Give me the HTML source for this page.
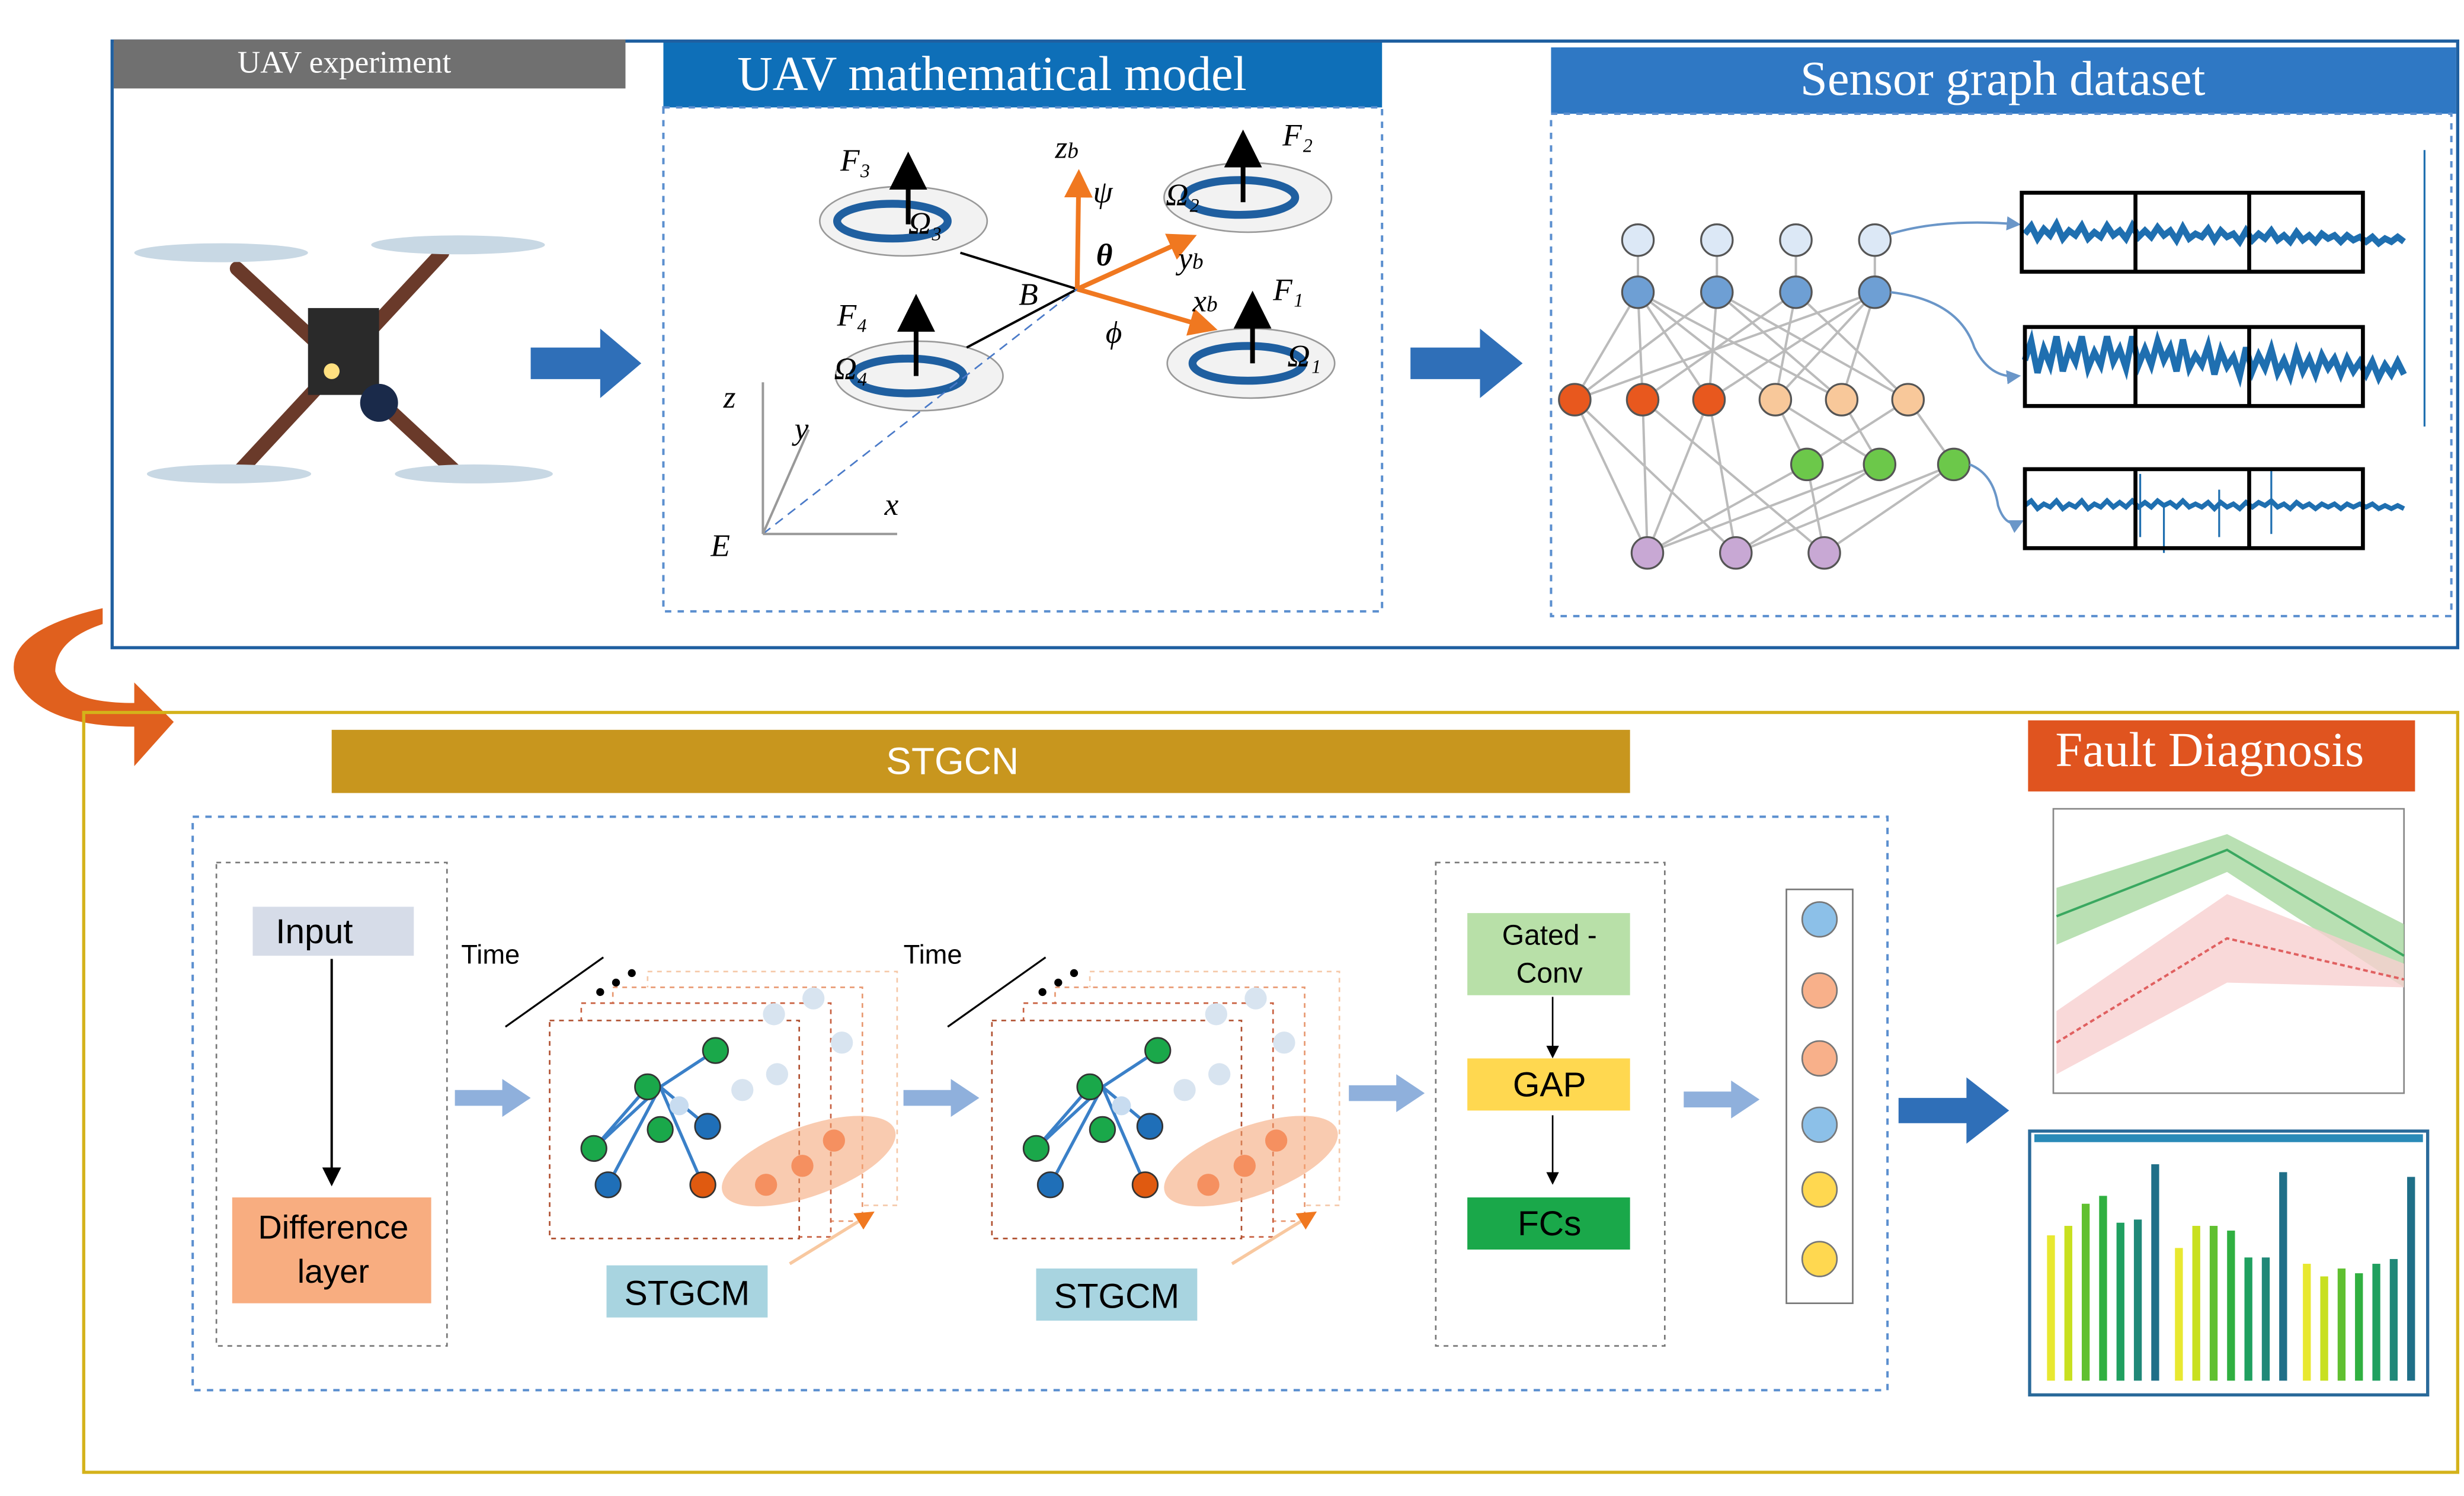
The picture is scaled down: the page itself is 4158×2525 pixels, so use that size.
<!DOCTYPE html>
<html><head><meta charset="utf-8"><style>html,body{margin:0;padding:0;background:#fff}svg{display:block}</style></head><body>
<svg width="4158" height="2525" viewBox="0 0 1560 947" preserveAspectRatio="none" xmlns="http://www.w3.org/2000/svg" font-family="Liberation Serif, serif">
<defs>
<marker id="ah" markerWidth="8" markerHeight="8" refX="6" refY="4" orient="auto"><path d="M0,0 L8,4 L0,8 z" fill="#000"/></marker>
<marker id="oh" markerWidth="6" markerHeight="6" refX="5" refY="3" orient="auto"><path d="M0,0 L6,3 L0,6 z" fill="#f07820"/></marker>
<marker id="bh" markerWidth="6" markerHeight="6" refX="5" refY="3" orient="auto"><path d="M0,0 L6,3 L0,6 z" fill="#6a96c8"/></marker>
</defs>
<!-- top box -->
<rect x="71" y="26" width="1485" height="384" fill="none" stroke="#1f5fa0" stroke-width="2"/>
<rect x="72" y="25" width="324" height="31" fill="#707070"/>
<text x="218" y="46" font-size="20" fill="#fff" text-anchor="middle">UAV experiment</text>
<!-- drone -->
<g stroke-linecap="round">
<line x1="150" y1="170" x2="290" y2="300" stroke="#6a3a2a" stroke-width="9"/>
<line x1="280" y1="160" x2="150" y2="300" stroke="#6a3a2a" stroke-width="9"/>
<ellipse cx="140" cy="160" rx="55" ry="6" fill="#c8d8e4"/>
<ellipse cx="290" cy="155" rx="55" ry="6" fill="#c8d8e4"/>
<ellipse cx="145" cy="300" rx="52" ry="6" fill="#c8d8e4"/>
<ellipse cx="300" cy="300" rx="50" ry="6" fill="#c8d8e4"/>
<rect x="195" y="195" width="45" height="55" fill="#2a2a2a"/>
<circle cx="240" cy="255" r="12" fill="#1a2a4a"/>
<circle cx="210" cy="235" r="5" fill="#ffe080"/>
</g>
<path d="M336,220 H380 V208 L406,230 L380,252 V240 H336 z" fill="#2f6fb8"/>
<!-- math model -->
<rect x="420" y="27" width="455" height="41" fill="#0e6fb8"/>
<text x="628" y="57" font-size="31" fill="#fff" text-anchor="middle">UAV mathematical model</text>
<rect x="420" y="68" width="455" height="319" fill="none" stroke="#5b8fcf" stroke-width="1.5" stroke-dasharray="4,4"/>
<g font-style="italic" font-size="20" fill="#000">
<ellipse cx="572" cy="140" rx="53" ry="22" fill="#f2f2f2" stroke="#999"/>
<ellipse cx="790" cy="125" rx="53" ry="22" fill="#f2f2f2" stroke="#999"/>
<ellipse cx="582" cy="238" rx="53" ry="22" fill="#f2f2f2" stroke="#999"/>
<ellipse cx="792" cy="230" rx="53" ry="22" fill="#f2f2f2" stroke="#999"/>
<g fill="none" stroke="#1f5fa0" stroke-width="5">
<ellipse cx="565" cy="140" rx="35" ry="11"/><ellipse cx="785" cy="125" rx="35" ry="11"/>
<ellipse cx="575" cy="238" rx="35" ry="11"/><ellipse cx="790" cy="230" rx="35" ry="11"/></g>
<g stroke="#000" stroke-width="3"><line x1="575" y1="142" x2="575" y2="102" marker-end="url(#ah)"/><line x1="787" y1="128" x2="787" y2="88" marker-end="url(#ah)"/><line x1="580" y1="238" x2="580" y2="192" marker-end="url(#ah)"/><line x1="793" y1="230" x2="793" y2="190" marker-end="url(#ah)"/></g>
<g stroke="#000" stroke-width="1.5"><line x1="608" y1="160" x2="682" y2="183"/><line x1="612" y1="220" x2="682" y2="183"/></g>
<g stroke="#f07820" stroke-width="3"><line x1="682" y1="183" x2="683" y2="110" marker-end="url(#oh)"/><line x1="682" y1="183" x2="755" y2="150" marker-end="url(#oh)"/><line x1="682" y1="183" x2="768" y2="208" marker-end="url(#oh)"/></g>
<line x1="483" y1="338" x2="682" y2="183" stroke="#4a7ac8" stroke-dasharray="6,4"/>
<g stroke="#999" stroke-width="1.5"><line x1="483" y1="338" x2="483" y2="242"/><line x1="483" y1="338" x2="568" y2="338"/><line x1="483" y1="338" x2="512" y2="272"/></g>
<text x="532" y="108">F₃</text><text x="812" y="92">F₂</text><text x="530" y="206">F₄</text><text x="806" y="190">F₁</text>
<text x="575" y="148">Ω₃</text><text x="738" y="130">Ω₂</text><text x="528" y="240">Ω₄</text><text x="815" y="232">Ω₁</text>
<text x="668" y="100">z<tspan font-size="14">b</tspan></text><text x="692" y="128">ψ</text><text x="694" y="168" font-weight="bold">θ</text>
<text x="746" y="170">y<tspan font-size="14">b</tspan></text><text x="755" y="197">x<tspan font-size="14">b</tspan></text><text x="700" y="217">ϕ</text>
<text x="645" y="193">B</text><text x="458" y="258">z</text><text x="503" y="278">y</text><text x="560" y="326">x</text><text x="450" y="352">E</text>
</g>
<path d="M893,220 H937 V208 L964,230 L937,252 V240 H893 z" fill="#2f6fb8"/>
<!-- sensor graph -->
<rect x="982" y="30" width="573" height="42" fill="#2f78c4"/>
<text x="1268" y="60" font-size="31" fill="#fff" text-anchor="middle">Sensor graph dataset</text>
<rect x="982" y="72" width="570" height="318" fill="none" stroke="#5b8fcf" stroke-width="1.5" stroke-dasharray="4,4"/>
<g stroke="#bbb" stroke-width="1.5">
<path d="M1037,185 L997,253 M1037,185 L1040,253 M1037,185 L1082,253 M1037,185 L1124,253 M1037,185 L1166,253 M1087,185 L997,253 M1087,185 L1082,253 M1087,185 L1166,253 M1087,185 L1208,253 M1137,185 L1040,253 M1137,185 L1124,253 M1137,185 L1208,253 M1187,185 L997,253 M1187,185 L1082,253 M1187,185 L1166,253 M1187,185 L1124,253"/>
<path d="M997,253 L1043,350 M997,253 L1099,350 M1040,253 L1043,350 M1040,253 L1155,350 M1082,253 L1099,350 M1082,253 L1043,350 M1124,253 L1144,294 M1166,253 L1190,294 M1208,253 L1237,294 M1124,253 L1190,294 M1208,253 L1144,294 M1144,294 L1043,350 M1144,294 L1155,350 M1190,294 L1099,350 M1190,294 L1043,350 M1237,294 L1155,350 M1237,294 L1099,350 M1037,152 L1037,185 M1087,152 L1087,185 M1137,152 L1137,185 M1187,152 L1187,185"/>
</g>
<g stroke="#555" stroke-width="1.2">
<g fill="#dce8f6"><circle cx="1037" cy="152" r="10"/><circle cx="1087" cy="152" r="10"/><circle cx="1137" cy="152" r="10"/><circle cx="1187" cy="152" r="10"/></g>
<g fill="#6e9fd4"><circle cx="1037" cy="185" r="10"/><circle cx="1087" cy="185" r="10"/><circle cx="1137" cy="185" r="10"/><circle cx="1187" cy="185" r="10"/></g>
<g fill="#e8581e"><circle cx="997" cy="253" r="10"/><circle cx="1040" cy="253" r="10"/><circle cx="1082" cy="253" r="10"/></g>
<g fill="#f8c89a"><circle cx="1124" cy="253" r="10"/><circle cx="1166" cy="253" r="10"/><circle cx="1208" cy="253" r="10"/></g>
<g fill="#6cc84a"><circle cx="1144" cy="294" r="10"/><circle cx="1190" cy="294" r="10"/><circle cx="1237" cy="294" r="10"/></g>
<g fill="#c8a8d4"><circle cx="1043" cy="350" r="10"/><circle cx="1099" cy="350" r="10"/><circle cx="1155" cy="350" r="10"/></g>
</g>
<g fill="none" stroke="#6a96c8" stroke-width="1.5"><path d="M1197,148 Q1230,138 1278,142" marker-end="url(#bh)"/><path d="M1197,185 Q1240,190 1250,220 Q1260,240 1278,238" marker-end="url(#bh)"/><path d="M1247,294 Q1262,300 1265,320 Q1270,335 1280,330" marker-end="url(#bh)"/></g>
<g fill="none" stroke="#1f6fb0" stroke-width="1.2">
<path d="M1282,148 l4,-5 l4,8 l4,-6 l4,4 l4,-7 l4,9 l4,-5 l4,3 l4,-6 l4,8 l4,-4 l4,3 l4,-7 l4,6 l4,-3 l4,5 l4,-8 l4,7 l4,-4 l4,4 l4,-6 l4,5 l4,-3 l4,6 l4,-8 l4,7 l4,-3 l4,2 l4,-5 l4,7 l4,-6 l4,4 l4,-2 l4,5 l4,-7 l4,6 l4,-4 l4,3 l4,-5 l4,6 l4,-3 l4,4 l4,-6 l4,5 l4,-3 l4,4 l4,-5 l4,3 l4,-2 l4,4 l4,-4 l4,3 l4,-2 l4,3 l4,-3 l4,4 l4,-3 l4,2 l4,-3 l4,3" stroke-width="4"/>
<path d="M1282,228 l4,-12 l4,20 l4,-15 l4,10 l4,-18 l4,22 l4,-14 l4,8 l4,-16 l4,20 l4,-10 l4,8 l4,-18 l4,16 l4,-8 l4,12 l4,-20 l4,18 l4,-10 l4,10 l4,-15 l4,12 l4,-8 l4,15 l4,-20 l4,18 l4,-8 l4,6 l4,-12 l4,18 l4,-15 l4,10 l4,-6 l4,12 l4,-18 l4,15 l4,-10 l4,8 l4,-12 l4,15 l4,-8 l4,10 l4,-15 l4,12 l4,-8 l4,10 l4,-12 l4,8 l4,-6 l4,10 l4,-10 l4,8 l4,-6 l4,8 l4,-8 l4,10 l4,-8 l4,6 l4,-8 l4,8" stroke-width="4"/>
<path d="M1282,320 l4,-3 l4,5 l4,-3 l4,2 l4,-4 l4,5 l4,-3 l4,2 l4,-4 l4,5 l4,-3 l4,2 l4,-4 l4,4 l4,-3 l4,3 l4,-4 l4,4 l4,-3 l4,3 l4,-4 l4,3 l4,-2 l4,3 l4,-4 l4,4 l4,-2 l4,2 l4,-3 l4,4 l4,-4 l4,3 l4,-2 l4,3 l4,-4 l4,3 l4,-3 l4,2 l4,-3 l4,4 l4,-2 l4,3 l4,-4 l4,3 l4,-2 l4,3 l4,-3 l4,2 l4,-2 l4,3 l4,-3 l4,2 l4,-2 l4,2 l4,-2 l4,3 l4,-2 l4,2 l4,-2 l4,2" stroke-width="3"/>
<path d="M1355,300 v40 M1405,310 v30 M1438,298 v40 M1370,320 v30 M1535,95 v175"/>
</g>
<g fill="none" stroke="#000" stroke-width="2.5">
<rect x="1280" y="122" width="216" height="50"/><line x1="1352" y1="122" x2="1352" y2="172"/><line x1="1424" y1="122" x2="1424" y2="172"/>
<rect x="1282" y="207" width="214" height="50"/><line x1="1352" y1="207" x2="1352" y2="257"/><line x1="1424" y1="207" x2="1424" y2="257"/>
<rect x="1282" y="297" width="214" height="50"/><line x1="1352" y1="297" x2="1352" y2="347"/><line x1="1424" y1="297" x2="1424" y2="347"/>
</g>
<!-- curved orange arrow -->
<path d="M65,385 Q0,400 10,430 Q25,460 85,460 L85,485 L110,457 L85,432 L85,445 Q40,445 35,425 Q35,405 65,395 z" fill="#e0601e"/>
<!-- bottom box -->
<rect x="53" y="451" width="1503" height="481" fill="none" stroke="#d4b21a" stroke-width="2"/>
<rect x="210" y="462" width="822" height="40" fill="#c8961e"/>
<text x="603" y="490" font-size="24" fill="#fff" text-anchor="middle" font-family="Liberation Sans, sans-serif">STGCN</text>
<rect x="122" y="517" width="1073" height="363" fill="none" stroke="#5b8fcf" stroke-width="1.5" stroke-dasharray="4,4"/>
<rect x="137" y="546" width="146" height="306" fill="none" stroke="#777" stroke-dasharray="3,3"/>
<rect x="160" y="574" width="102" height="31" fill="#d6dce8"/>
<text x="199" y="597" font-size="22" text-anchor="middle" font-family="Liberation Sans, sans-serif">Input</text>
<line x1="210" y1="607" x2="210" y2="748" stroke="#000" stroke-width="1.5" marker-end="url(#ah)"/>
<rect x="147" y="758" width="126" height="67" fill="#f8ad80"/>
<text x="211" y="784" font-size="21" text-anchor="middle" font-family="Liberation Sans, sans-serif">Difference</text>
<text x="211" y="812" font-size="21" text-anchor="middle" font-family="Liberation Sans, sans-serif">layer</text>
<g font-family="Liberation Sans, sans-serif">
<g id="st">
<rect x="410" y="615" width="158" height="148" fill="#fff" stroke="#f5c8a8" stroke-dasharray="3,3"/>
<rect x="388" y="625" width="158" height="148" fill="#fff" stroke="#e89870" stroke-dasharray="3,3"/>
<rect x="368" y="635" width="158" height="148" fill="#fff" stroke="#c86040" stroke-dasharray="3,3"/>
<rect x="348" y="646" width="158" height="138" fill="#fff" stroke="#b05030" stroke-dasharray="3,3"/>
<g fill="#d8e4f0"><circle cx="515" cy="632" r="7"/><circle cx="490" cy="642" r="7"/><circle cx="470" cy="690" r="7"/><circle cx="492" cy="680" r="7"/><circle cx="533" cy="660" r="7"/></g>
<ellipse cx="512" cy="735" rx="58" ry="22" fill="#f4a070" opacity="0.55" transform="rotate(-20 512 735)"/>
<g stroke="#3a80c8" stroke-width="2"><path d="M418,688 L410,688 M418,688 L453,665 M418,688 L448,713 M418,688 L376,727 M418,688 L385,750 M418,688 L445,750 M410,688 L376,727"/></g>
<circle cx="453" cy="665" r="8" fill="#1aa84a" stroke="#333"/><circle cx="410" cy="688" r="8" fill="#1aa84a" stroke="#333"/><circle cx="418" cy="715" r="8" fill="#1aa84a" stroke="#333"/><circle cx="376" cy="727" r="8" fill="#1aa84a" stroke="#333"/>
<circle cx="448" cy="713" r="8" fill="#1f6fb8" stroke="#333"/><circle cx="385" cy="750" r="8" fill="#1f6fb8" stroke="#333"/><circle cx="445" cy="750" r="8" fill="#e05a10" stroke="#333"/>
<circle cx="485" cy="750" r="7" fill="#f59060"/><circle cx="508" cy="738" r="7" fill="#f59060"/><circle cx="528" cy="722" r="7" fill="#f59060"/><circle cx="430" cy="700" r="6" fill="#c8dcf0"/>
<line x1="320" y1="650" x2="382" y2="606" stroke="#000" stroke-width="1.2"/>
<circle cx="380" cy="628" r="2.5"/><circle cx="390" cy="622" r="2.5"/><circle cx="400" cy="616" r="2.5"/>
<text x="292" y="610" font-size="17">Time</text>
<path d="M500,800 L552,768" stroke="#f8c8a0" stroke-width="2" marker-end="url(#oh)"/>
</g>
<use href="#st" transform="translate(280,0)"/>
<rect x="384" y="801" width="102" height="33" fill="#a8d4e0"/>
<text x="435" y="826" font-size="22" text-anchor="middle">STGCM</text>
<rect x="656" y="803" width="102" height="33" fill="#a8d4e0"/>
<text x="707" y="828" font-size="22" text-anchor="middle">STGCM</text>
<g fill="#8fb0dc">
<path d="M288,690 H318 V683 L336,695 L318,707 V700 H288 z"/>
<path d="M572,690 H602 V683 L620,695 L602,707 V700 H572 z"/>
<path d="M854,687 H884 V680 L902,692 L884,704 V697 H854 z"/>
<path d="M1066,691 H1096 V684 L1114,696 L1096,708 V701 H1066 z"/>
</g>
<rect x="909" y="546" width="145" height="306" fill="none" stroke="#777" stroke-dasharray="3,3"/>
<rect x="929" y="578" width="103" height="52" fill="#b8e0a8"/>
<text x="981" y="598" font-size="18" text-anchor="middle">Gated -</text>
<text x="981" y="622" font-size="18" text-anchor="middle">Conv</text>
<line x1="983" y1="631" x2="983" y2="668" stroke="#000" marker-end="url(#ah)"/>
<rect x="929" y="670" width="103" height="33" fill="#ffd850"/>
<text x="981" y="694" font-size="22" text-anchor="middle">GAP</text>
<line x1="983" y1="706" x2="983" y2="748" stroke="#000" marker-end="url(#ah)"/>
<rect x="929" y="758" width="103" height="33" fill="#1aa84a"/>
<text x="981" y="782" font-size="22" text-anchor="middle">FCs</text>
<rect x="1131" y="563" width="42" height="262" fill="#fff" stroke="#777"/>
<g stroke="#777"><circle cx="1152" cy="582" r="11" fill="#8cc0e8"/><circle cx="1152" cy="627" r="11" fill="#f8b08a"/><circle cx="1152" cy="670" r="11" fill="#f8b08a"/><circle cx="1152" cy="712" r="11" fill="#8cc0e8"/><circle cx="1152" cy="753" r="11" fill="#ffd850"/><circle cx="1152" cy="797" r="11" fill="#ffd850"/></g>
</g>
<path d="M1202,695 H1245 V682 L1272,703 L1245,724 V711 H1202 z" fill="#2f6fb8"/>
<!-- fault diagnosis -->
<rect x="1284" y="456" width="245" height="45" fill="#e0541f"/>
<text x="1399" y="485" font-size="31" fill="#fff" text-anchor="middle">Fault Diagnosis</text>
<rect x="1300" y="512" width="222" height="180" fill="#fff" stroke="#888"/>
<path d="M1302,562 L1410,528 L1522,585 L1522,625 L1410,552 L1302,598 z" fill="#a8d8a0" opacity="0.8"/>
<path d="M1302,640 L1410,566 L1522,610 L1522,625 L1410,622 L1302,680 z" fill="#f8d0d0" opacity="0.8"/>
<polyline points="1302,580 1410,538 1522,605" fill="none" stroke="#3aa860" stroke-width="1.5"/>
<polyline points="1302,660 1410,594 1522,620" fill="none" stroke="#e06060" stroke-width="1.5" stroke-dasharray="3,2"/>
<rect x="1285" y="716" width="252" height="167" fill="#fff" stroke="#2a6a9a" stroke-width="2"/>
<rect x="1288" y="718" width="246" height="5" fill="#2a8ab8"/>
<g>
<rect x="1296" y="782" width="5" height="92" fill="#e8e830"/><rect x="1307" y="776" width="5" height="98" fill="#c8e020"/><rect x="1318" y="762" width="5" height="112" fill="#60c030"/><rect x="1329" y="757" width="5" height="117" fill="#30b040"/><rect x="1340" y="774" width="5" height="100" fill="#20a060"/><rect x="1351" y="772" width="5" height="102" fill="#208878"/><rect x="1362" y="737" width="5" height="137" fill="#1f6f88"/>
<rect x="1377" y="790" width="5" height="84" fill="#e8e830"/><rect x="1388" y="776" width="5" height="98" fill="#c8e020"/><rect x="1399" y="776" width="5" height="98" fill="#60c030"/><rect x="1410" y="779" width="5" height="95" fill="#30b040"/><rect x="1421" y="796" width="5" height="78" fill="#20a060"/><rect x="1432" y="796" width="5" height="78" fill="#208878"/><rect x="1443" y="742" width="5" height="132" fill="#1f6f88"/>
<rect x="1458" y="800" width="5" height="74" fill="#e8e830"/><rect x="1469" y="808" width="5" height="66" fill="#c8e020"/><rect x="1480" y="803" width="5" height="71" fill="#60c030"/><rect x="1491" y="806" width="5" height="68" fill="#30b040"/><rect x="1502" y="800" width="5" height="74" fill="#20a060"/><rect x="1513" y="797" width="5" height="77" fill="#208878"/><rect x="1524" y="745" width="5" height="129" fill="#1f6f88"/>
</g>
</svg>
</body></html>
